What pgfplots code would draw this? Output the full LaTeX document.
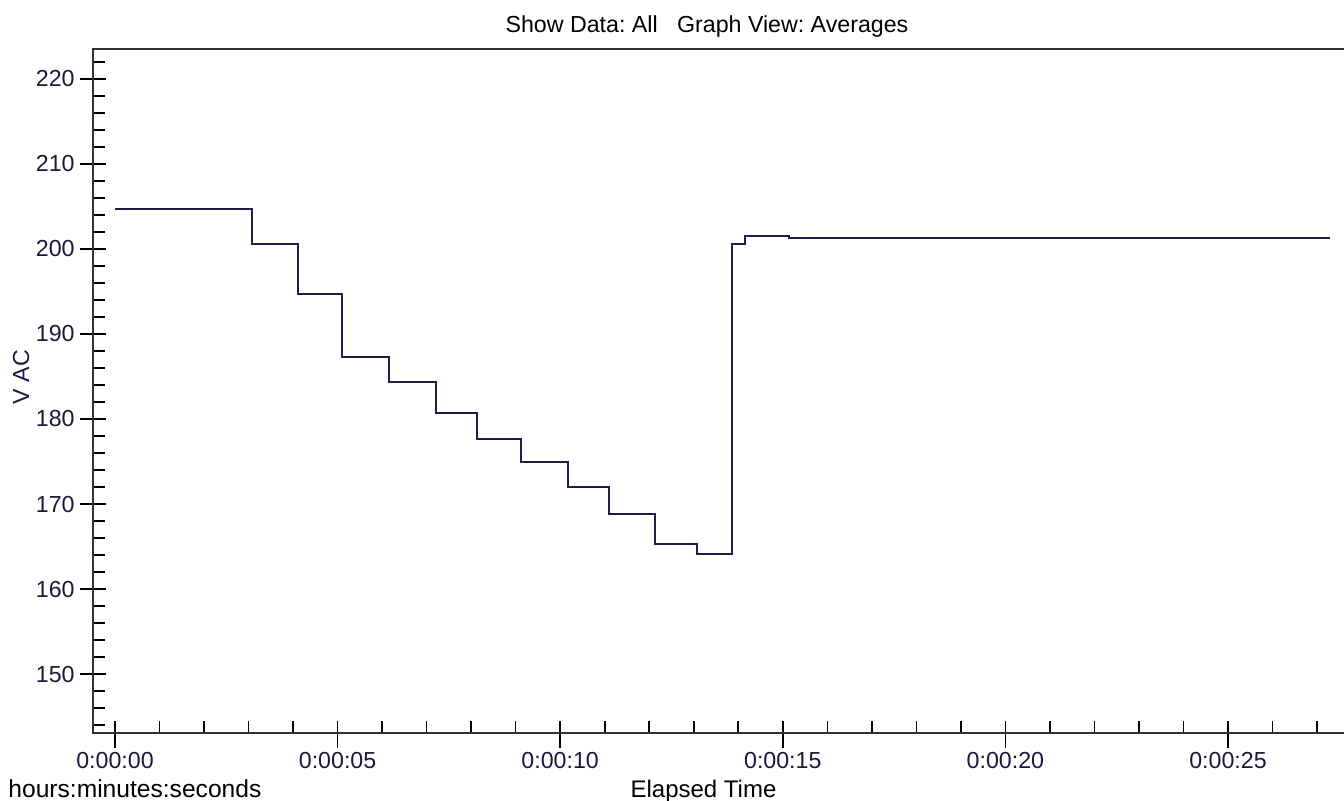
\documentclass[border=0pt]{standalone}
\usepackage{pgfplots}
\pgfplotsset{compat=1.18}
\usepackage{fontspec}
\setmainfont{Liberation Sans}
\definecolor{txt}{RGB}{28,24,58}
\definecolor{ln}{RGB}{30,30,78}
\begin{document}
\frenchspacing
\fontsize{11.6pt}{13pt}\selectfont
\begin{tikzpicture}
\begin{axis}[
  at={(0,0)}, anchor=south west,
  scale only axis, width=627pt, height=342pt,
  xmin=-0.494, xmax=27.673, ymin=143.06, ymax=223.53,
  xtick={0,5,10,15,20,25},
  xticklabels={0:00:00,0:00:05,0:00:10,0:00:15,0:00:20,0:00:25},
  minor xtick={0,...,27},
  ytick={150,160,...,220},
  minor ytick={144,146,...,222},
  xtick pos=lower, ytick pos=left,
  tick align=center,
  major tick length=13pt, minor tick length=6pt,
  major x tick style={yshift=-1pt},
  minor x tick style={yshift=3pt},
  minor y tick style={xshift=3pt},
  tick style={black, line width=0.8pt},
  axis line style={black!80, line width=0.9pt},
  ticklabel style={font=\fontsize{11.6pt}{13pt}\selectfont, text=txt},
  xticklabel style={anchor=base, yshift=-11pt},
  yticklabel style={anchor=east, inner sep=0pt, xshift=-2.5pt},
  /pgf/number format/assume math mode=true,
  clip=false,
]
\addplot[const plot, color=ln, line width=1pt] coordinates {
(0,204.67) (3.07,200.59) (4.11,194.67) (5.11,187.26) (6.16,184.32)
(7.21,180.67) (8.12,177.65) (9.13,174.91) (10.17,171.96) (11.10,168.79)
(12.13,165.29) (13.07,164.12) (13.87,200.59) (14.15,201.53) (15.14,201.29)
(27.29,201.29)};
\end{axis}
\node[anchor=base, text=black] at (307pt,350pt) {Show Data: All\ \ \ Graph View: Averages};
\node[anchor=base, rotate=90, text=txt] at (-32pt,178pt) {V AC};
\node[anchor=base, text=black, font=\fontsize{12pt}{13pt}\selectfont] at (305.25pt,-32pt) {Elapsed Time};
\node[anchor=base west, inner sep=0pt, text=black, font=\fontsize{12.3pt}{13pt}\selectfont] at (-42.5pt,-32pt) {hours:minutes:seconds};
\pgfresetboundingbox
\path[use as bounding box] (-46.5pt,-33.5pt) rectangle (625.5pt,366.5pt);
\end{tikzpicture}
\end{document}
